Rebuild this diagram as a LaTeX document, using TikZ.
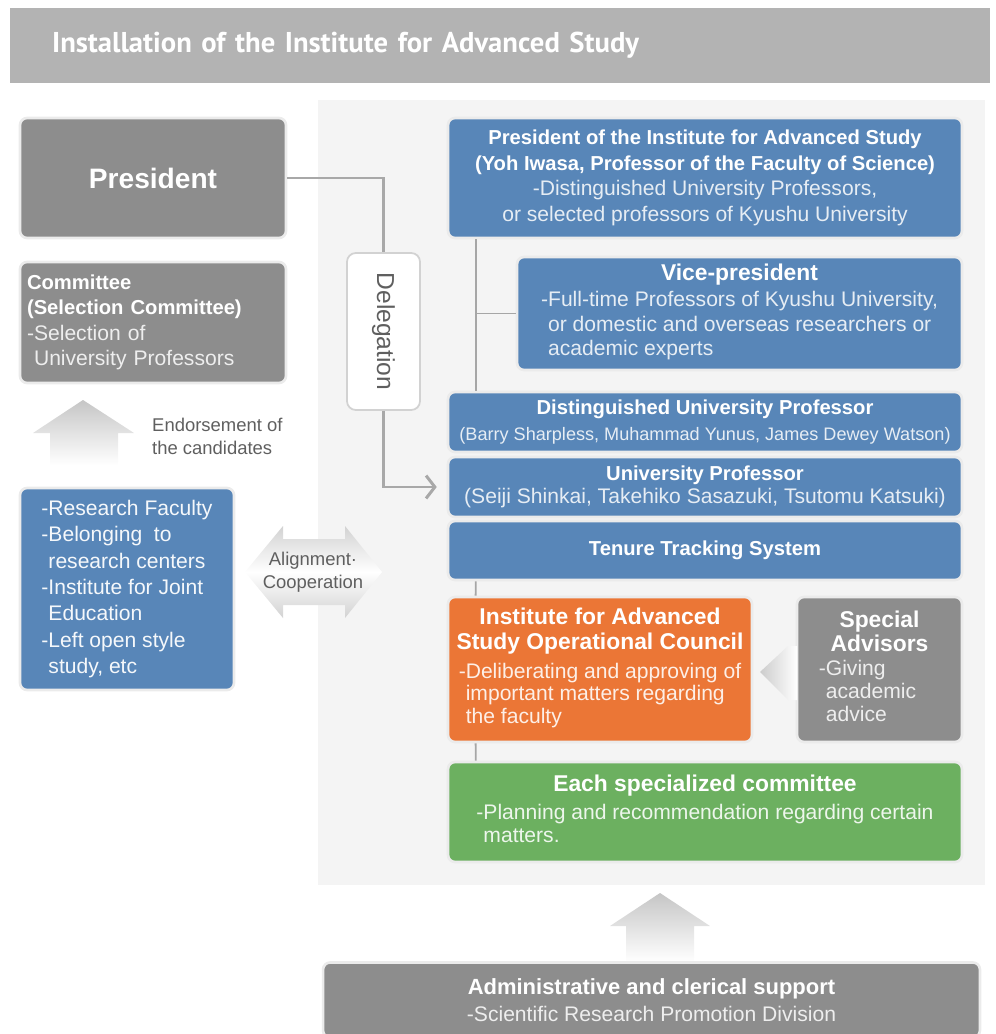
\documentclass[tikz,border=0pt]{standalone}
\usepackage{fontspec}
\setmainfont{Liberation Sans}
\newfontfamily\headfont{PT Sans}
\usetikzlibrary{positioning}
\usetikzlibrary{arrows.meta}
\usepackage{xcolor}

\definecolor{iasblue}{RGB}{88,134,184}
\definecolor{boxgray}{RGB}{141,141,141}
\definecolor{councilorange}{RGB}{235,118,54}
\definecolor{committeegreen}{RGB}{108,176,96}
\definecolor{bargray}{RGB}{179,179,179}
\definecolor{panelgray}{RGB}{244,244,244}
\definecolor{linegray}{RGB}{168,168,168}
\definecolor{labelgray}{RGB}{95,95,95}

\newcommand{\regfont}{\fontsize{12}{14.5}\selectfont}
\newcommand{\boldfont}{\fontsize{11.5}{14.5}\selectfont\bfseries}
\newcommand{\midbold}{\fontsize{13}{15}\selectfont\bfseries}

\tikzset{
  orgbox/.style={draw=white!92!black, line width=1.5pt, rounded corners=4pt,
    inner sep=0pt, font=\regfont},
  bluebox/.style={orgbox, fill=iasblue, text=white!85!iasblue},
  graybox/.style={orgbox, fill=boxgray, text=white!85!boxgray},
  delegline/.style={draw=linegray, line width=1.7pt},
  spine/.style={draw=gray!70, line width=1.1pt},
}

\begin{document}
\begin{tikzpicture}[x=0.02cm, y=-0.02cm]
\useasboundingbox (0,0) rectangle (995,1034);
% light panel behind the institute
\fill[panelgray] (318,100) rectangle (985,885);

\node[fill=bargray, minimum width=19.6cm, minimum height=1.5cm, inner xsep=0.84cm,
  text width=17.92cm, align=left, text=white, font=\headfont\bfseries\fontsize{16.3}{19}\selectfont]
  (title) at (500,45.5) {Installation of the Institute for Advanced Study};

% university side
\node[graybox, minimum width=5.32cm, minimum height=2.4cm, text=white,
  font=\fontsize{16}{19}\selectfont\bfseries] (pres) at (153,178) {President};
\node[graybox, minimum width=5.32cm, minimum height=2.42cm, inner xsep=0.14cm,
  text width=5.04cm, align=left] (comm) at (153,322.5)
  {\textcolor{white}{\boldfont Committee}\\ \textcolor{white}{\boldfont (Selection Committee)}\\
   -Selection of\\ \hphantom{-}University Professors};
\node[bluebox, minimum width=4.28cm, minimum height=4.04cm, align=left,
  font=\fontsize{12}{15}\selectfont, text=white!94!iasblue] (faculty) at (127,589)
  {-Research Faculty\\ -Belonging\ \ to\\ \hphantom{-}research centers\\ -Institute for Joint\\
   \hphantom{-}Education\\ -Left open style\\ \hphantom{-}study, etc};

% endorsement arrow
\shade[top color=gray!45, bottom color=white]
  (83,400) -- (134,433) -- (118,433) -- (118,465) -- (50,465) -- (50,433) -- (33,433) -- cycle;
\node[anchor=west, align=left, text=labelgray, font=\fontsize{10.5}{13}\selectfont]
  (endorse) at (146,436) {Endorsement of\\the candidates};

% alignment double arrow
\shade[top color=gray!35, bottom color=gray!35, middle color=white]
  (245,572) -- (283,526) -- (283,539) -- (345,539) -- (345,526) -- (382,572)
  -- (345,618) -- (345,605) -- (283,605) -- (283,618) -- cycle;
\node[align=center, text=labelgray, font=\fontsize{10.5}{13}\selectfont]
  (coop) at (313,572) {Alignment·\\Cooperation};

% institute side
\node[bluebox, minimum width=10.28cm, minimum height=2.4cm, align=center] (iaspres) at (705,178)
  {\textcolor{white}{\boldfont President of the Institute for Advanced Study}\\
   \textcolor{white}{\boldfont (Yoh Iwasa, Professor of the Faculty of Science)}\\
   -Distinguished University Professors,\\ or selected professors of Kyushu University};
\node[bluebox, minimum width=8.9cm, minimum height=2.26cm, align=center,
  font=\fontsize{12}{13.8}\selectfont] (vice) at (739.5,313.5)
  {\textcolor{white}{\midbold Vice-president}\\[1.5pt]
   \begin{tabular}{@{}l@{}}-Full-time Professors of Kyushu University,\\
   \hphantom{-}or domestic and overseas researchers or\\ \hphantom{-}academic experts\end{tabular}};
\node[bluebox, minimum width=10.28cm, minimum height=1.2cm, align=center,
  font=\fontsize{11.5}{15}\selectfont] (dist) at (705,422)
  {\textcolor{white}{\boldfont Distinguished University Professor}\\
   {\fontsize{10.3}{12}\selectfont (Barry Sharpless, Muhammad Yunus, James Dewey Watson)}};
\node[bluebox, minimum width=10.28cm, minimum height=1.2cm, align=center,
  font=\fontsize{12}{13.5}\selectfont] (univ) at (705,487)
  {\textcolor{white}{\boldfont University Professor}\\
   (Seiji Shinkai, Takehiko Sasazuki, Tsutomu Katsuki)};
\node[bluebox, minimum width=10.28cm, minimum height=1.18cm, text=white,
  font=\boldfont] (tenure) at (705,550.5) {Tenure Tracking System};
\node[orgbox, fill=councilorange, text=white!88!councilorange, minimum width=6.08cm,
  minimum height=2.9cm, align=center, font=\fontsize{12}{13}\selectfont] (council) at (600,669.5)
  {\textcolor{white}{\midbold Institute for Advanced}\\[1pt]
   \textcolor{white}{\midbold Study Operational Council}\\[3.5pt]
   \begin{tabular}{@{}l@{}}-Deliberating and approving of\\
   \hphantom{-}important matters regarding\\ \hphantom{-}the faculty\end{tabular}};
\node[graybox, minimum width=3.3cm, minimum height=2.9cm, align=center,
  font=\fontsize{12}{13}\selectfont] (advisors) at (879.5,669.5)
  {\textcolor{white}{\midbold Special}\\[1pt] \textcolor{white}{\midbold Advisors}\\[3.5pt]
   \begin{tabular}{@{}l@{}}-Giving\\ \hphantom{-}academic\\ \hphantom{-}advice\end{tabular}\kern0.48cm};
\node[orgbox, fill=committeegreen, text=white!88!committeegreen, minimum width=10.28cm,
  minimum height=2cm, align=center, font=\fontsize{12}{13.3}\selectfont] (speccomm) at (705,812)
  {\textcolor{white}{\midbold Each specialized committee}\\[3pt]
   \begin{tabular}{@{}l@{}}-Planning and recommendation regarding certain\\
   \hphantom{-}matters.\end{tabular}};

% advice arrow
\shade[left color=gray!40, right color=white]
  (760,672) -- (788,646) -- (797,646) -- (797,700) -- (788,700) -- cycle;

% support
\shade[top color=gray!45, bottom color=white]
  (660,893) -- (710,926) -- (694,926) -- (694,962) -- (626,962) -- (626,926) -- (610,926) -- cycle;
\node[graybox, minimum width=13.14cm, minimum height=1.5cm, align=center,
  font=\fontsize{12}{15.5}\selectfont] (admin) at (651.5,1000)
  {\textcolor{white}{\fontsize{12.5}{15}\selectfont\bfseries Administrative and clerical support}\\
   -Scientific Research Promotion Division};

% delegation
\node[draw=gray!35, fill=white, line width=1pt, rounded corners=5pt, minimum width=1.46cm,
  minimum height=3.14cm, text=labelgray, font=\fontsize{14}{16}\selectfont]
  (deleg) at (383.5,331.5) {\rotatebox{-90}{Delegation}};
\draw[delegline] (pres.east) -| (deleg.north);
\draw[delegline, -{Straight Barb[length=5pt, width=13pt]}, shorten >=0.2cm]
  (deleg.south) |- (univ.west);

% internal lines
\coordinate (spinetop) at ([xshift=0.58cm]iaspres.south west);
\draw[spine] (spinetop) -- ([xshift=0.58cm]dist.north west);
\draw[spine] (vice.west) -- (vice.west -| spinetop);
\draw[spine] ([xshift=0.58cm]tenure.south west) -- ([xshift=0.58cm]council.north west);
\draw[spine] ([xshift=0.58cm]council.south west) -- ([xshift=0.58cm]speccomm.north west);
\end{tikzpicture}
\end{document}
